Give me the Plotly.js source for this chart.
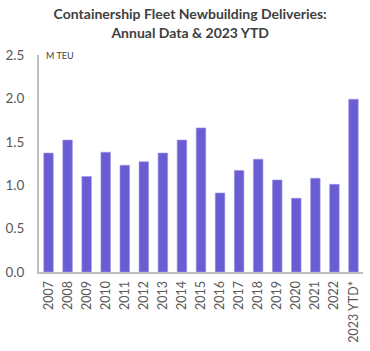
<!DOCTYPE html>
<html><head><meta charset="utf-8">
<script src="https://cdn.plot.ly/plotly-3.0.1.min.js"></script>
<style>html,body{margin:0;padding:0;background:#fff}#chart{width:370px;height:351px}</style>
</head><body><div id="chart"></div>
<script>
var categories = ["2007","2008","2009","2010","2011","2012","2013","2014","2015","2016","2017","2018","2019","2020","2021","2022","2023 YTD*"];
var deliveries = [1.37,1.52,1.10,1.38,1.23,1.27,1.37,1.52,1.66,0.91,1.17,1.30,1.06,0.85,1.08,1.01,1.99];
var yTicks = [0,0.5,1,1.5,2,2.5];
var yTickLabels = ["0.0","0.5","1.0","1.5","2.0","2.5"];

var font = "Lato, 'DejaVu Sans', sans-serif";
Plotly.newPlot('chart', [{
  type:'bar', x:categories, y:deliveries,
  marker:{color:'#6a5dd4', line:{color:'#9d93e6', width:0.6}},
  hoverinfo:'x+y'
}], {
  width:370, height:351,
  margin:{l:39, r:7, t:55, b:79},
  paper_bgcolor:'#fff', plot_bgcolor:'#fff',
  bargap:0.5,
  showlegend:false,
  title:{text:'<b>Containership Fleet Newbuilding Deliveries:<br>Annual Data & 2023 YTD</b>',
    font:{family:font, size:14, color:'#404040'}, x:0.514, xref:'container', xanchor:'center', y:0.945, yanchor:'top', yref:'container'},
  xaxis:{type:'category', tickangle:-90, tickfont:{family:font, size:12.5, color:'#595959'},
    showline:true, linecolor:'#bfbfbf', linewidth:2, ticks:'', showgrid:false, automargin:false, ticklabelstandoff:2},
  yaxis:{range:[0,2.5], tickvals:yTicks, ticktext:yTickLabels, tickfont:{family:font, size:13.5, color:'#595959'},
    showline:true, linecolor:'#bfbfbf', linewidth:2, ticks:'', showgrid:false, zeroline:false, automargin:false, ticklabelstandoff:10},
  annotations:[{text:'M TEU', xref:'paper', yref:'paper', x:0.015, y:1.0, xanchor:'left', yanchor:'middle',
    showarrow:false, font:{family:font, size:9, color:'#404040'}}]
}, {displayModeBar:false, staticPlot:true});
</script></body></html>
